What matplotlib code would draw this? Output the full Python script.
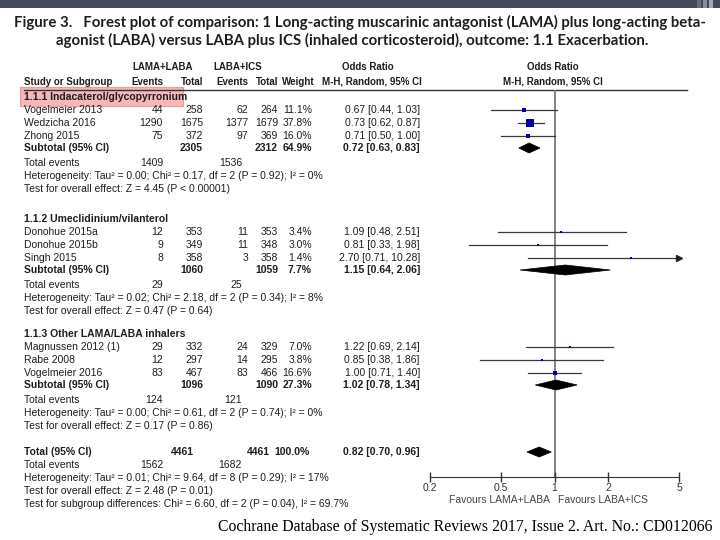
import matplotlib
matplotlib.use("Agg")
import matplotlib.pyplot as plt
from matplotlib.patches import Rectangle, Polygon
from matplotlib.ticker import NullLocator

# ---- data
subgroups = ["1.1.1 Indacaterol/glycopyrronium",
             "1.1.2 Umeclidinium/vilanterol",
             "1.1.3 Other LAMA/LABA inhalers"]
studies = [["Vogelmeier 2013", "Wedzicha 2016", "Zhong 2015"],
           ["Donohue 2015a", "Donohue 2015b", "Singh 2015"],
           ["Magnussen 2012 (1)", "Rabe 2008", "Vogelmeier 2016"]]
lama_events = [[44, 1290, 75], [12, 9, 8], [29, 12, 83]]
lama_total = [[258, 1675, 372], [353, 349, 358], [332, 297, 467]]
ics_events = [[62, 1377, 97], [11, 11, 3], [24, 14, 83]]
ics_total = [[264, 1679, 369], [353, 348, 358], [329, 295, 466]]
weights = [[11.1, 37.8, 16.0], [3.4, 3.0, 1.4], [7.0, 3.8, 16.6]]
odds = [[0.67, 0.73, 0.71], [1.09, 0.81, 2.70], [1.22, 0.85, 1.00]]
ci_low = [[0.44, 0.62, 0.50], [0.48, 0.33, 0.71], [0.69, 0.38, 0.71]]
ci_high = [[1.03, 0.87, 1.00], [2.51, 1.98, 10.28], [2.14, 1.86, 1.40]]

sub_lama_total = [2305, 1060, 1096]
sub_ics_total = [2312, 1059, 1090]
sub_weight = [64.9, 7.7, 27.3]
sub_odds = [0.72, 1.15, 1.02]
sub_low = [0.63, 0.64, 0.78]
sub_high = [0.83, 2.06, 1.34]
sub_lama_events = [1409, 29, 124]
sub_ics_events = [1536, 25, 121]
sub_het = ["Heterogeneity: Tau² = 0.00; Chi² = 0.17, df = 2 (P = 0.92); I² = 0%",
           "Heterogeneity: Tau² = 0.02; Chi² = 2.18, df = 2 (P = 0.34); I² = 8%",
           "Heterogeneity: Tau² = 0.00; Chi² = 0.61, df = 2 (P = 0.74); I² = 0%"]
sub_test = ["Test for overall effect: Z = 4.45 (P < 0.00001)",
            "Test for overall effect: Z = 0.47 (P = 0.64)",
            "Test for overall effect: Z = 0.17 (P = 0.86)"]

total_lama, total_ics, total_weight = 4461, 4461, 100.0
total_odds, total_low, total_high = 0.82, 0.70, 0.96
total_lama_events, total_ics_events = 1562, 1682
total_notes = ["Heterogeneity: Tau² = 0.01; Chi² = 9.64, df = 8 (P = 0.29); I² = 17%",
               "Test for overall effect: Z = 2.48 (P = 0.01)",
               "Test for subgroup differences: Chi² = 6.60, df = 2 (P = 0.04), I² = 69.7%"]

ticks = [0.2, 0.5, 1, 2, 5]
tick_labels = ["0.2", "0.5", "1", "2", "5"]

title1 = "Figure 3.   Forest plot of comparison: 1 Long-acting muscarinic antagonist (LAMA) plus long-acting beta-"
title2 = "agonist (LABA) versus LABA plus ICS (inhaled corticosteroid), outcome: 1.1 Exacerbation."
footer = "Cochrane Database of Systematic Reviews 2017, Issue 2. Art. No.: CD012066"

# ---- layout (pixels)
W, H = 720, 540
fs = 7.5
hfs = 7.0
ink = "#1e1e1e"
plt.rcParams['font.family'] = ['Liberation Sans', 'DejaVu Sans']

fig = plt.figure(figsize=(7.2, 5.4), dpi=100)
tx = fig.add_axes([0, 0, 1, 1])
tx.set_xlim(0, W)
tx.set_ylim(H, 0)
tx.axis('off')

top_px, axis_px = 90, 477
x0_px, x1_px = 430, 679
fx = fig.add_axes([x0_px / W, 1 - axis_px / H, (x1_px - x0_px) / W, (axis_px - top_px) / H])
fx.set_xscale('log')
fx.set_xlim(ticks[0], ticks[-1])
fx.set_ylim(axis_px, top_px)
fx.patch.set_alpha(0)
for s in ['top', 'left', 'right']:
    fx.spines[s].set_visible(False)
fx.spines['bottom'].set_color('#333333')
fx.set_yticks([])
fx.set_xticks(ticks)
fx.set_xticklabels(tick_labels)
fx.xaxis.set_minor_locator(NullLocator())
fx.tick_params(axis='x', direction='inout', length=7, width=1, color='#333333',
               labelsize=fs, labelcolor='#333333', pad=1)
fx.axvline(1, color='#7a7a7a', lw=1.3, zorder=1)

# top dark bar
tx.add_patch(Rectangle((0, 0), W, 8, color='#45475a', lw=0))
for xs, c in [(697, '#6a6c7c'), (703, '#8a8c99'), (709, '#a5a7b2')]:
    tx.add_patch(Rectangle((xs, 0), 4, 8, color=c, lw=0))

t1 = tx.text(W / 2, 22, title1, ha='center', va='center', fontsize=11,
             family=['Lato', 'DejaVu Sans'], weight='bold', color=ink)
r = fig.canvas.get_renderer()
tsize = 11 * 694 / t1.get_window_extent(r).width
t1.set_fontsize(tsize)
tx.text(352, 40, title2, ha='center', va='center', fontsize=tsize,
        family=['Lato', 'DejaVu Sans'], weight='bold', color=ink)

# header
def txt(x, y, s, ha='left', bold=False, size=fs, color=ink):
    tx.text(x, y, s, ha=ha, va='center', fontsize=size,
            weight='bold' if bold else 'normal', color=color)

c_le, c_lt, c_ie, c_it, c_w, c_or = 163, 203, 248, 278, 312, 420
txt(163, 67, "LAMA+LABA", 'center', True, hfs)
txt(238, 67, "LABA+ICS", 'center', True, hfs)
txt(368, 67, "Odds Ratio", 'center', True, hfs)
txt(553, 67, "Odds Ratio", 'center', True, hfs)
txt(24, 82, "Study or Subgroup", bold=True, size=hfs)
for x, s in [(c_le, "Events"), (c_lt, "Total"), (c_ie, "Events"), (c_it, "Total"), (c_w + 3, "Weight")]:
    txt(x, 82, s, 'right', True, hfs)
txt(c_or + 2, 82, "M-H, Random, 95% CI", 'right', True, hfs)
txt(553, 82, "M-H, Random, 95% CI", 'center', True, hfs)
tx.plot([24, 687], [top_px, top_px], color='#333333', lw=1)

tx.add_patch(Rectangle((20, 87), 163, 19, fc='#f5b7b7', ec='#e99a9a', lw=0.8, zorder=0))

def diamond(y, est, lo, hi, half=5):
    fx.add_patch(Polygon([(lo, y), (est, y - half), (hi, y), (est, y + half)],
                         closed=True, fc='black', ec='black', lw=0.5, zorder=3))

group_y = [97, 219, 334]
for g, y0 in enumerate(group_y):
    txt(24, y0, subgroups[g], bold=True)
    for i in range(3):
        y = y0 + 13 * (i + 1)
        txt(24, y, studies[g][i])
        txt(c_le, y, str(lama_events[g][i]), 'right')
        txt(c_lt, y, str(lama_total[g][i]), 'right')
        txt(c_ie, y, str(ics_events[g][i]), 'right')
        txt(c_it, y, str(ics_total[g][i]), 'right')
        txt(c_w, y, "%.1f%%" % weights[g][i], 'right')
        txt(c_or, y, "%.2f [%.2f, %.2f]" % (odds[g][i], ci_low[g][i], ci_high[g][i]), 'right')
        hi = min(ci_high[g][i], ticks[-1])
        fx.plot([ci_low[g][i], hi], [y, y], color='#3a3a3a', lw=0.9, zorder=2)
        if ci_high[g][i] > ticks[-1]:
            fx.plot([hi], [y], marker='>', ms=4, color='#222222', clip_on=False, zorder=2)
        side = max(2.0, 8 * (weights[g][i] / 37.8) ** 0.8)
        fx.plot([odds[g][i]], [y], marker='s', ms=side * 0.72, color='#0000a6',
                mec='#0000a6', mew=0, zorder=4)
    y = y0 + 51
    txt(24, y, "Subtotal (95% CI)", bold=True)
    txt(c_lt, y, str(sub_lama_total[g]), 'right', True)
    txt(c_it, y, str(sub_ics_total[g]), 'right', True)
    txt(c_w, y, "%.1f%%" % sub_weight[g], 'right', True)
    txt(c_or, y, "%.2f [%.2f, %.2f]" % (sub_odds[g], sub_low[g], sub_high[g]), 'right', True)
    diamond(y, sub_odds[g], sub_low[g], sub_high[g])
    txt(24, y0 + 66, "Total events")
    txt(c_le, y0 + 66, str(sub_lama_events[g]), 'right')
    txt(242, y0 + 66, str(sub_ics_events[g]), 'right')
    txt(24, y0 + 79, sub_het[g])
    txt(24, y0 + 92, sub_test[g])

ty = 452
txt(24, ty, "Total (95% CI)", bold=True)
txt(194, ty, str(total_lama), 'right', True)
txt(270, ty, str(total_ics), 'right', True)
txt(310, ty, "%.1f%%" % total_weight, 'right', True)
txt(c_or, ty, "%.2f [%.2f, %.2f]" % (total_odds, total_low, total_high), 'right', True)
diamond(ty, total_odds, total_low, total_high)
txt(24, ty + 13, "Total events")
txt(c_le, ty + 13, str(total_lama_events), 'right')
txt(242, ty + 13, str(total_ics_events), 'right')
for k, s in enumerate(total_notes):
    txt(24, ty + 26 + 13 * k, s)

txt(550, 500, "Favours LAMA+LABA", 'right', color='#444444')
txt(558, 500, "Favours LABA+ICS", 'left', color='#444444')

ft = tx.text(218, 527, footer, ha='left', va='center', fontsize=11,
             family=['Liberation Serif', 'DejaVu Serif'], color='black')
ft.set_fontsize(11 * 492 / ft.get_window_extent(r).width)

fig.savefig("out.png", dpi=100)
